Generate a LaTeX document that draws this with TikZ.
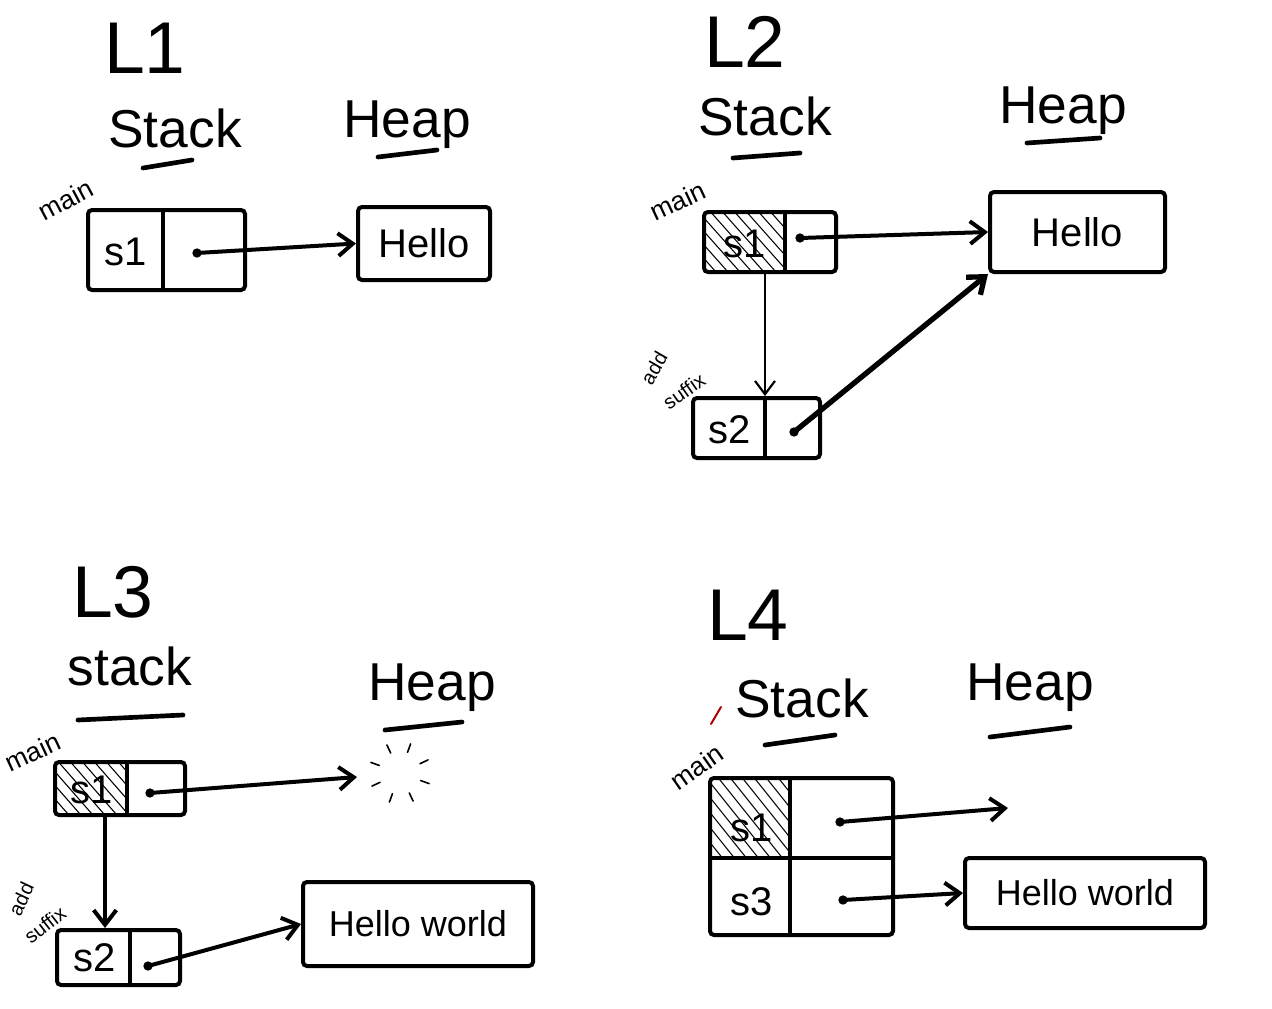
\documentclass[tikz,border=0pt]{standalone}
\usepackage{fontspec}
\setmainfont{Liberation Sans}
\usetikzlibrary{arrows.meta,fit}
\begin{document}
\begin{tikzpicture}[x=0.75pt,y=-0.75pt,
  ink/.style={line width=3pt, line cap=round, line join=round},
  ul/.style={line width=3.5pt, line cap=round},
  box/.style={draw, line width=3pt, inner sep=0pt, rounded corners=3pt},
  divline/.style={line width=3pt, line cap=round},
  hatch/.style={line width=0.8pt},
  ptr/.style={line width=3pt, line cap=round, -{Straight Barb[length=11pt,width=17pt]}},
  thinptr/.style={line width=1.6pt, line cap=round, -{Straight Barb[length=10pt,width=15pt]}},
  dotnode/.style={circle, fill, inner sep=0pt, minimum size=7pt},
  title/.style={font=\fontsize{55}{60}\selectfont},
  hd/.style={font=\fontsize{40}{44}\selectfont},
  cellt/.style={font=\fontsize{30}{34}\selectfont},
  heapt/.style={font=\fontsize{30}{34}\selectfont},
  hwt/.style={font=\fontsize{27}{30}\selectfont},
  mainlbl/.style={font=\fontsize{20}{22}\selectfont, inner sep=0pt},
  sfx/.style={font=\fontsize{15}{15}\selectfont, inner sep=0pt}
]
\useasboundingbox[fill=white] (0,0) rectangle (1272,1008);

% ---------------- L1 ----------------
\node[title] (t1) at (145,48) {L1};
\node[hd] (st1) at (175,128) {Stack};
\node[hd] (hp1) at (407,125) {Heap};
\draw[ul] (143,168) -- (192,160);
\draw[ul] (378,157) -- (437,150);
\node[mainlbl, rotate=28] (m1) at (66,200) {main};
\node[box, fit={(88,210) (245,290)}] (b1) {};
\draw[divline] (163,212) -- (163,288);
\node[cellt] (b1t) at (126,252) {s1};
\node[dotnode] (d1) at (197,253) {};
\node[box, fit={(358,207) (490,280)}] (h1) {};
\node[heapt] (h1t) at (h1) {Hello};
\draw[ptr] (d1.center) -- (h1.west);

% ---------------- L2 ----------------
\node[title] (t2) at (745,42) {L2};
\node[hd] (st2) at (765,116) {Stack};
\node[hd] (hp2) at (1063,111) {Heap};
\draw[ul] (733,158) -- (800,153);
\draw[ul] (1027,143) -- (1100,138);
\node[mainlbl, rotate=25] (m2) at (678,201) {main};
\begin{scope}
  \clip (704,212) rectangle (785,272);
  \foreach \i in {0,...,12} \draw[hatch] (640+\i*12,200) -- (720+\i*12,290);
\end{scope}
\node[box, fit={(704,212) (836,272)}] (b2a) {};
\draw[divline] (785,214) -- (785,270);
\node[cellt] (b2at) at (745,244) {s1};
\node[dotnode] (d2a) at (800,238) {};
\node[box, fit={(990,192) (1165,272)}] (h2) {};
\node[heapt] (h2t) at (h2) {Hello};
\draw[ptr] (d2a.center) -- (h2.west);
\node[box, fit={(693,398) (820,458)}] (b2b) {};
\draw[divline] (765,400) -- (765,456);
\node[cellt] (b2bt) at (730,430) {s2};
\node[dotnode] (d2b) at (794,432) {};
\draw[thinptr] (b2a.south -| 765,0) -- (b2b.north -| 765,0);
\draw[ptr, line width=4pt] (d2b.center) -- (h2.south west);
\node[sfx, rotate=60] (x2a) at (654,368) {add};
\node[sfx, rotate=35] (x2b) at (684,391) {suffix};

% ---------------- L3 ----------------
\node[title] (t3) at (113,592) {L3};
\node[hd] (st3) at (130,666) {stack};
\node[hd] (hp3) at (432,688) {Heap};
\draw[ul] (78,720) -- (183,715);
\draw[ul] (385,730) -- (462,722);
\node[mainlbl, rotate=25] (m3) at (33,752) {main};
\begin{scope}
  \clip (55,762) rectangle (127,815);
  \foreach \i in {0,...,12} \draw[hatch] (0+\i*12,750) -- (70+\i*12,830);
\end{scope}
\node[box, fit={(55,762) (185,815)}] (b3a) {};
\draw[divline] (127,764) -- (127,813);
\node[cellt] (b3at) at (92,790) {s1};
\node[dotnode] (d3a) at (150,793) {};
\coordinate (gone) at (357,777);
\draw[ptr] (d3a.center) -- (gone);
\foreach \a in {20,65,110,155,200,245,290,335}
  \draw[line width=1.2pt, line cap=round, shift={(400,773)}] (\a:22) -- (\a:31);
\node[box, fit={(57,930) (180,985)}] (b3b) {};
\draw[divline] (130,932) -- (130,983);
\node[cellt] (b3bt) at (95,958) {s2};
\node[dotnode] (d3b) at (148,966) {};
\draw[ptr] (b3a.south -| 105,0) -- (b3b.north -| 105,0);
\node[sfx, rotate=65] (x3a) at (21,899) {add};
\node[sfx, rotate=38] (x3b) at (45,925) {suffix};
\node[box, fit={(303,882) (533,966)}] (h3) {};
\node[hwt] (h3t) at (h3) {Hello world};
\draw[ptr] (d3b.center) -- (h3.west);

% ---------------- L4 ----------------
\node[title] (t4) at (748,615) {L4};
\node[hd] (st4) at (802,698) {Stack};
\node[hd] (hp4) at (1030,688) {Heap};
\draw[ul] (765,745) -- (835,735);
\draw[ul] (990,737) -- (1070,727);
\node[mainlbl, rotate=35] (m4) at (697,767) {main};
\draw[red!70!black, line width=1.5pt, line cap=round] (711,724) -- (721,707);
\begin{scope}
  \clip (710,778) rectangle (790,858);
  \foreach \i in {0,...,14} \draw[hatch] (640+\i*12,770) -- (720+\i*12,870);
\end{scope}
\node[box, fit={(710,778) (893,935)}] (f4) {};
\draw[divline] (712,858) -- (891,858);
\draw[divline] (790,780) -- (790,933);
\node[cellt] (f4a) at (752,828) {s1};
\node[cellt] (f4b) at (752,902) {s3};
\node[dotnode] (d4a) at (840,822) {};
\node[dotnode] (d4b) at (843,900) {};
\coordinate (free4) at (1008,808);
\draw[ptr] (d4a.center) -- (free4);
\node[box, fit={(965,858) (1205,928)}] (h4) {};
\node[hwt] (h4t) at (h4) {Hello world};
\draw[ptr] (d4b.center) -- (h4.west);
\end{tikzpicture}
\end{document}
